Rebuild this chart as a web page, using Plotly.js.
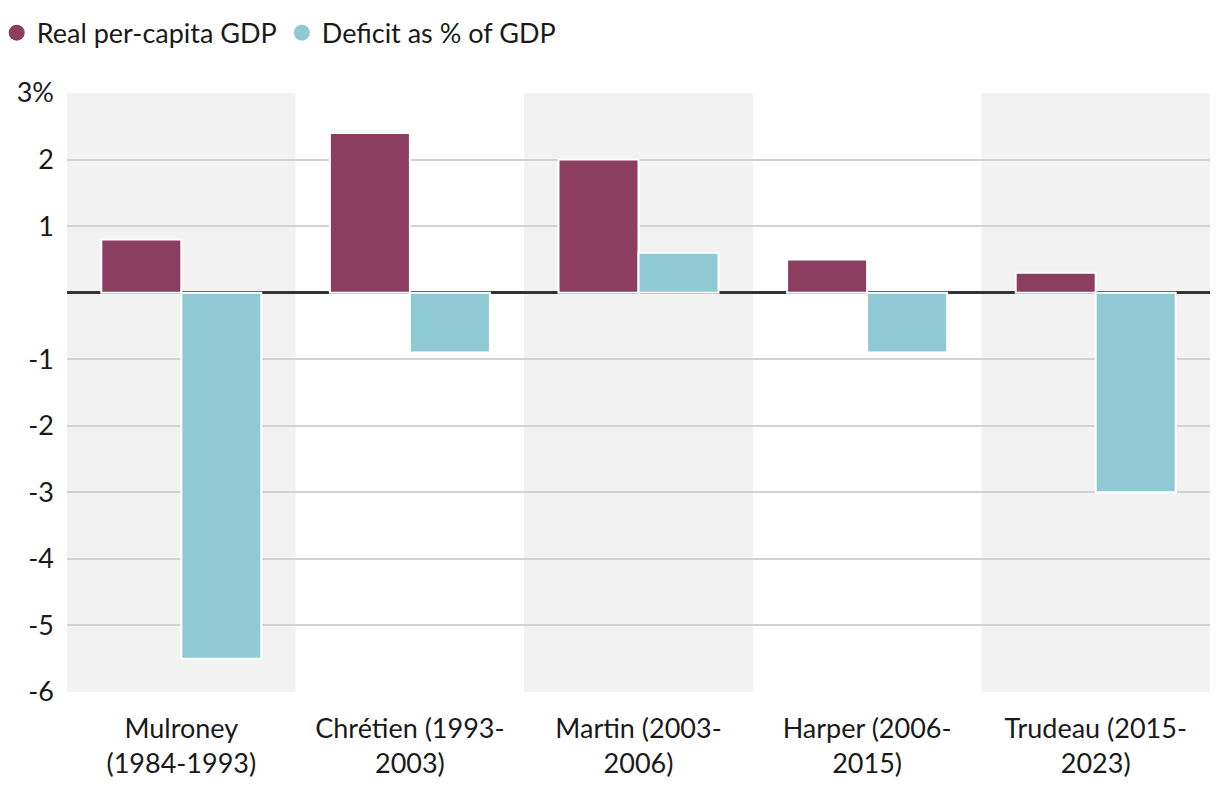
<!DOCTYPE html>
<html><head><meta charset="utf-8">
<script src="https://cdn.plot.ly/plotly-3.0.1.min.js"></script>
<style>html,body{margin:0;padding:0;background:#fff}#c{width:1220px;height:788px}</style>
</head><body><div id="c"></div>
<script>
const categories = ["Mulroney<br>(1984-1993)", "Chrétien (1993-<br>2003)", "Martin (2003-<br>2006)", "Harper (2006-<br>2015)", "Trudeau (2015-<br>2023)"];
const gdpValues = [0.8, 2.4, 2.0, 0.5, 0.3];
const deficitValues = [-5.5, -0.9, 0.6, -0.9, -3.0];
const yTickVals = [3, 2, 1, 0, -1, -2, -3, -4, -5, -6];
const yTickText = ["3%", "2", "1", "", "-1", "-2", "-3", "-4", "-5", "-6"];
const seriesNames = ["Real per-capita GDP", "Deficit as % of GDP"];
const colors = ["#8b3e60", "#8fcad4"];

const font = "Lato, 'Open Sans', sans-serif";

const traces = [
  {type: "bar", x: categories, y: gdpValues, name: seriesNames[0], showlegend: false,
   marker: {color: colors[0], line: {color: "#fff", width: 2}}},
  {type: "bar", x: categories, y: deficitValues, name: seriesNames[1], showlegend: false,
   marker: {color: colors[1], line: {color: "#fff", width: 2}}},
  {type: "scatter", mode: "markers", x: [null], y: [null], name: seriesNames[0],
   marker: {color: colors[0], size: 17, symbol: "circle"}},
  {type: "scatter", mode: "markers", x: [null], y: [null], name: seriesNames[1],
   marker: {color: colors[1], size: 17, symbol: "circle"}}
];

const shapes = categories.map((c, i) => i % 2 === 0 ? {
  type: "rect", xref: "x", yref: "paper", x0: i - 0.5, x1: i + 0.5, y0: 0, y1: 1,
  fillcolor: "#f2f2f2", line: {width: 0}, layer: "below"
} : null).filter(Boolean);

const layout = {
  width: 1220, height: 788,
  margin: {l: 67, r: 10, t: 93, b: 96, autoexpand: false},
  paper_bgcolor: "#fff", plot_bgcolor: "rgba(0,0,0,0)",
  font: {family: font, size: 27, color: "#1a1a1a"},
  barmode: "group", bargap: 0.3, bargroupgap: 0,
  showlegend: true,
  legend: {orientation: "h", x: -0.0615, xanchor: "left", y: 1.1, yanchor: "middle",
           font: {size: 27, color: "#1a1a1a"}, itemwidth: 30, tracegroupgap: 0},
  xaxis: {type: "category", showgrid: false, zeroline: false, showline: false, ticks: "",
          tickfont: {size: 27}, range: [-0.5, 4.5], ticklabelstandoff: 18, fixedrange: true},
  yaxis: {range: [-6, 3], tickvals: yTickVals, ticktext: yTickText, showgrid: true,
          gridcolor: "#d2d2d2", gridwidth: 2, zeroline: true, zerolinecolor: "#333", zerolinewidth: 3,
          showline: false, ticks: "", ticklabelstandoff: 12, tickfont: {size: 27}, fixedrange: true},
  shapes: shapes
};

Plotly.newPlot("c", traces, layout, {displayModeBar: false, staticPlot: true});
</script></body></html>
